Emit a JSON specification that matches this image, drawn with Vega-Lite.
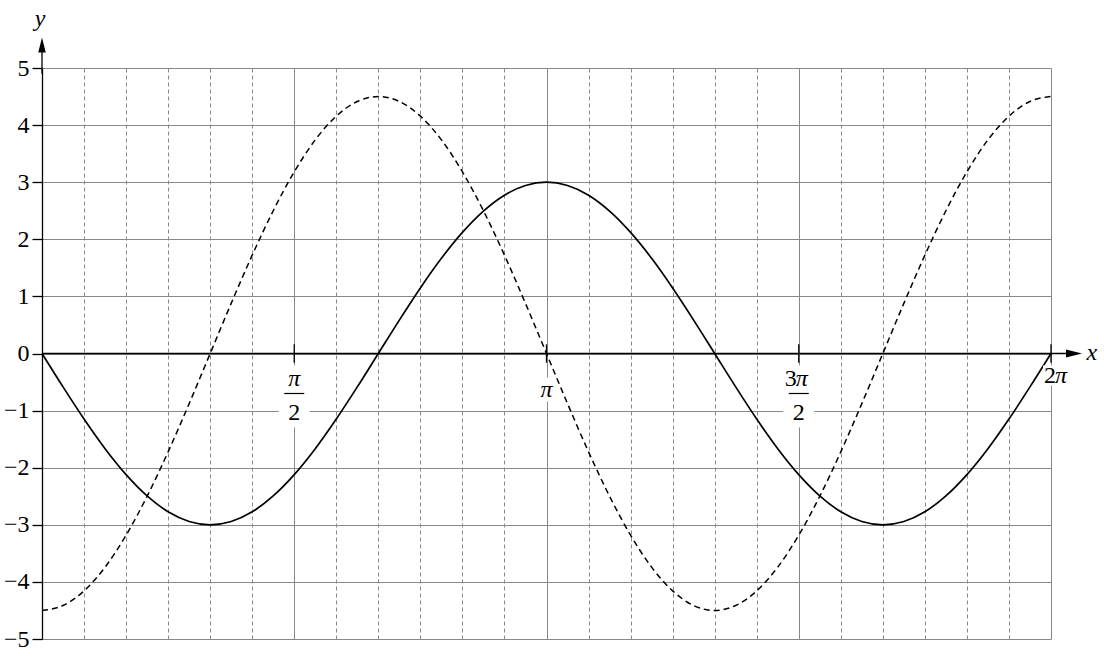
{
  "$schema": "https://vega.github.io/schema/vega-lite/v6.json",
  "width": 1009,
  "height": 571,
  "autosize": {"type": "none"},
  "padding": {"left": 42, "top": 68, "right": 53, "bottom": 19},
  "background": "white",
  "config": {"view": {"stroke": null}, "font": "Liberation Serif"},
  "datasets": {
    "curves": [
      {"x": 0, "solid": 0, "dashed": -4.5},
      {"x": 0.1309, "solid": -0.585, "dashed": -4.414},
      {"x": 0.2618, "solid": -1.148, "dashed": -4.157},
      {"x": 0.3927, "solid": -1.667, "dashed": -3.742},
      {"x": 0.5236, "solid": -2.121, "dashed": -3.182},
      {"x": 0.6545, "solid": -2.494, "dashed": -2.5},
      {"x": 0.7854, "solid": -2.772, "dashed": -1.722},
      {"x": 0.9163, "solid": -2.942, "dashed": -0.878},
      {"x": 1.0472, "solid": -3, "dashed": 0},
      {"x": 1.1781, "solid": -2.942, "dashed": 0.878},
      {"x": 1.309, "solid": -2.772, "dashed": 1.722},
      {"x": 1.4399, "solid": -2.494, "dashed": 2.5},
      {"x": 1.5708, "solid": -2.121, "dashed": 3.182},
      {"x": 1.7017, "solid": -1.667, "dashed": 3.742},
      {"x": 1.8326, "solid": -1.148, "dashed": 4.157},
      {"x": 1.9635, "solid": -0.585, "dashed": 4.414},
      {"x": 2.0944, "solid": 0, "dashed": 4.5},
      {"x": 2.2253, "solid": 0.585, "dashed": 4.414},
      {"x": 2.3562, "solid": 1.148, "dashed": 4.157},
      {"x": 2.4871, "solid": 1.667, "dashed": 3.742},
      {"x": 2.618, "solid": 2.121, "dashed": 3.182},
      {"x": 2.7489, "solid": 2.494, "dashed": 2.5},
      {"x": 2.8798, "solid": 2.772, "dashed": 1.722},
      {"x": 3.0107, "solid": 2.942, "dashed": 0.878},
      {"x": 3.1416, "solid": 3, "dashed": 0},
      {"x": 3.2725, "solid": 2.942, "dashed": -0.878},
      {"x": 3.4034, "solid": 2.772, "dashed": -1.722},
      {"x": 3.5343, "solid": 2.494, "dashed": -2.5},
      {"x": 3.6652, "solid": 2.121, "dashed": -3.182},
      {"x": 3.7961, "solid": 1.667, "dashed": -3.742},
      {"x": 3.927, "solid": 1.148, "dashed": -4.157},
      {"x": 4.0579, "solid": 0.585, "dashed": -4.414},
      {"x": 4.1888, "solid": 0, "dashed": -4.5},
      {"x": 4.3197, "solid": -0.585, "dashed": -4.414},
      {"x": 4.4506, "solid": -1.148, "dashed": -4.157},
      {"x": 4.5815, "solid": -1.667, "dashed": -3.742},
      {"x": 4.7124, "solid": -2.121, "dashed": -3.182},
      {"x": 4.8433, "solid": -2.494, "dashed": -2.5},
      {"x": 4.9742, "solid": -2.772, "dashed": -1.722},
      {"x": 5.1051, "solid": -2.942, "dashed": -0.878},
      {"x": 5.236, "solid": -3, "dashed": 0},
      {"x": 5.3669, "solid": -2.942, "dashed": 0.878},
      {"x": 5.4978, "solid": -2.772, "dashed": 1.722},
      {"x": 5.6287, "solid": -2.494, "dashed": 2.5},
      {"x": 5.7596, "solid": -2.121, "dashed": 3.182},
      {"x": 5.8905, "solid": -1.667, "dashed": 3.742},
      {"x": 6.0214, "solid": -1.148, "dashed": 4.157},
      {"x": 6.1523, "solid": -0.585, "dashed": 4.414},
      {"x": 6.2832, "solid": 0, "dashed": 4.5}
    ],
    "ticks": [
      {"x": 1.5708, "label": "π/2", "coef": "", "pi": "π", "den": "2"},
      {"x": 3.1416, "label": "π", "coef": "", "pi": "π", "den": ""},
      {"x": 4.7124, "label": "3π/2", "coef": "3", "pi": "π", "den": "2"},
      {"x": 6.2832, "label": "2π", "coef": "2", "pi": "π", "den": ""}
    ]
  },
  "layer": [
    {
      "data": {"name": "curves"},
      "mark": {"type": "line", "interpolate": "monotone", "color": "black", "strokeWidth": 1.7},
      "encoding": {
        "x": {
          "field": "x", "type": "quantitative", "title": null,
          "scale": {"domain": [0, 6.2832], "nice": false, "zero": false},
          "axis": {
            "values": [0.2618, 0.5236, 0.7854, 1.0472, 1.309, 1.5708, 1.8326, 2.0944, 2.3562, 2.618, 2.8798, 3.1416, 3.4034, 3.6652, 3.927, 4.1888, 4.4506, 4.7124, 4.9742, 5.236, 5.4978, 5.7596, 6.0214, 6.2832],
            "labels": false, "ticks": false, "domain": false,
            "grid": true, "gridColor": "#888888", "gridWidth": 1, "gridOpacity": 1,
            "gridDash": {"condition": {"test": "abs(datum.value / (PI / 2) - round(datum.value / (PI / 2))) < 0.001", "value": []}, "value": [4, 3]}
          }
        },
        "y": {
          "field": "solid", "type": "quantitative", "title": null,
          "scale": {"domain": [-5, 5], "nice": false, "zero": false},
          "axis": {
            "values": [-5, -4, -3, -2, -1, 0, 1, 2, 3, 4, 5],
            "format": "d",
            "grid": true, "gridColor": "#888888", "gridWidth": 1, "gridOpacity": 1,
            "domainColor": "black", "domainWidth": 1.3,
            "tickColor": "black", "tickSize": 10, "tickWidth": 1.3,
            "labelFont": "Liberation Serif", "labelFontSize": 24, "labelColor": "black", "labelPadding": 3
          }
        }
      }
    },
    {
      "data": {"name": "ticks"},
      "transform": [{"filter": "datum.den !== ''"}],
      "mark": {"type": "point", "shape": "M-0.5,-1H0.5V1H-0.5Z", "size": 3844, "filled": true, "fill": "white", "opacity": 1, "strokeWidth": 0, "yOffset": 43},
      "encoding": {"x": {"field": "x", "type": "quantitative"}, "y": {"datum": 0, "type": "quantitative"}}
    },
    {
      "data": {"name": "ticks"},
      "transform": [{"filter": "datum.label === 'π'"}],
      "mark": {"type": "point", "shape": "M-0.75,-1H0.75V1H-0.75Z", "size": 576, "filled": true, "fill": "white", "opacity": 1, "strokeWidth": 0, "yOffset": 36},
      "encoding": {"x": {"field": "x", "type": "quantitative"}, "y": {"datum": 0, "type": "quantitative"}}
    },
    {
      "data": {"name": "ticks"},
      "transform": [{"filter": "datum.label === '2π'"}],
      "mark": {"type": "point", "shape": "M-1,-0.72H1V0.72H-1Z", "size": 784, "filled": true, "fill": "white", "opacity": 1, "strokeWidth": 0, "xOffset": 6, "yOffset": 22},
      "encoding": {"x": {"field": "x", "type": "quantitative"}, "y": {"datum": 0, "type": "quantitative"}}
    },
    {
      "data": {"name": "curves"},
      "mark": {"type": "line", "interpolate": "monotone", "color": "black", "strokeWidth": 1.5, "strokeDash": [6, 4]},
      "encoding": {
        "x": {"field": "x", "type": "quantitative", "title": null},
        "y": {"field": "dashed", "type": "quantitative", "title": null}
      }
    },
    {
      "data": {"values": [{}]},
      "mark": {"type": "rule", "color": "black", "strokeWidth": 1.3},
      "encoding": {"x": {"datum": 0, "type": "quantitative"}, "x2": {"datum": 6.41}, "y": {"datum": 0, "type": "quantitative"}}
    },
    {
      "data": {"values": [{}]},
      "mark": {"type": "rule", "color": "black", "strokeWidth": 1.3},
      "encoding": {"x": {"datum": 0, "type": "quantitative"}, "y": {"datum": 4.9, "type": "quantitative"}, "y2": {"datum": 5.32}}
    },
    {
      "data": {"name": "ticks"},
      "mark": {"type": "rule", "color": "black", "strokeWidth": 1.3},
      "encoding": {"x": {"field": "x", "type": "quantitative"}, "y": {"datum": -0.16, "type": "quantitative"}, "y2": {"datum": 0.16}}
    },
    {
      "data": {"values": [{}]},
      "mark": {"type": "point", "shape": "M0,-1L0.5,1L-0.5,1Z", "size": 225, "filled": true, "color": "black", "opacity": 1, "strokeWidth": 0},
      "encoding": {"x": {"datum": 0, "type": "quantitative"}, "y": {"datum": 5.403, "type": "quantitative"}}
    },
    {
      "data": {"values": [{}]},
      "mark": {"type": "point", "shape": "M1,0L-1,-0.5L-1,0.5Z", "size": 256, "filled": true, "color": "black", "opacity": 1, "strokeWidth": 0},
      "encoding": {"x": {"datum": 6.4263, "type": "quantitative"}, "y": {"datum": 0, "type": "quantitative"}}
    },
    {
      "data": {"name": "ticks"},
      "transform": [{"filter": "datum.label === 'π/2'"}],
      "mark": {"type": "text", "font": "Liberation Serif", "fontStyle": "italic", "fontSize": 24, "color": "black", "baseline": "middle", "align": "center", "dy": 25},
      "encoding": {"x": {"field": "x", "type": "quantitative"}, "y": {"datum": 0, "type": "quantitative"}, "text": {"field": "pi"}}
    },
    {
      "data": {"name": "ticks"},
      "transform": [{"filter": "datum.label === '3π/2'"}],
      "mark": {"type": "text", "font": "Liberation Serif", "fontSize": 24, "color": "black", "baseline": "middle", "align": "right", "dx": -2, "dy": 25},
      "encoding": {"x": {"field": "x", "type": "quantitative"}, "y": {"datum": 0, "type": "quantitative"}, "text": {"field": "coef"}}
    },
    {
      "data": {"name": "ticks"},
      "transform": [{"filter": "datum.label === '3π/2'"}],
      "mark": {"type": "text", "font": "Liberation Serif", "fontStyle": "italic", "fontSize": 24, "color": "black", "baseline": "middle", "align": "left", "dx": -3, "dy": 25},
      "encoding": {"x": {"field": "x", "type": "quantitative"}, "y": {"datum": 0, "type": "quantitative"}, "text": {"field": "pi"}}
    },
    {
      "data": {"name": "ticks"},
      "transform": [{"filter": "datum.den !== ''"}],
      "mark": {"type": "rule", "color": "black", "strokeWidth": 1.2, "xOffset": -10, "x2Offset": 10, "yOffset": 40},
      "encoding": {"x": {"field": "x", "type": "quantitative"}, "x2": {"field": "x"}, "y": {"datum": 0, "type": "quantitative"}}
    },
    {
      "data": {"name": "ticks"},
      "transform": [{"filter": "datum.den !== ''"}],
      "mark": {"type": "text", "font": "Liberation Serif", "fontSize": 24, "color": "black", "baseline": "middle", "align": "center", "dy": 59},
      "encoding": {"x": {"field": "x", "type": "quantitative"}, "y": {"datum": 0, "type": "quantitative"}, "text": {"field": "den"}}
    },
    {
      "data": {"name": "ticks"},
      "transform": [{"filter": "datum.label === 'π'"}],
      "mark": {"type": "text", "font": "Liberation Serif", "fontStyle": "italic", "fontSize": 24, "color": "black", "baseline": "middle", "align": "center", "dy": 36},
      "encoding": {"x": {"field": "x", "type": "quantitative"}, "y": {"datum": 0, "type": "quantitative"}, "text": {"field": "pi"}}
    },
    {
      "data": {"name": "ticks"},
      "transform": [{"filter": "datum.label === '2π'"}],
      "mark": {"type": "text", "font": "Liberation Serif", "fontSize": 24, "color": "black", "baseline": "middle", "align": "right", "dx": 5, "dy": 22},
      "encoding": {"x": {"field": "x", "type": "quantitative"}, "y": {"datum": 0, "type": "quantitative"}, "text": {"field": "coef"}}
    },
    {
      "data": {"name": "ticks"},
      "transform": [{"filter": "datum.label === '2π'"}],
      "mark": {"type": "text", "font": "Liberation Serif", "fontStyle": "italic", "fontSize": 24, "color": "black", "baseline": "middle", "align": "left", "dx": 4, "dy": 22},
      "encoding": {"x": {"field": "x", "type": "quantitative"}, "y": {"datum": 0, "type": "quantitative"}, "text": {"field": "pi"}}
    },
    {
      "data": {"values": [{}]},
      "mark": {"type": "text", "font": "Liberation Serif", "fontStyle": "italic", "fontSize": 24, "color": "black", "baseline": "alphabetic", "align": "center", "dy": 6},
      "encoding": {"x": {"datum": 6.538, "type": "quantitative"}, "y": {"datum": 0, "type": "quantitative"}, "text": {"value": "x"}}
    },
    {
      "data": {"values": [{}]},
      "mark": {"type": "text", "font": "Liberation Serif", "fontStyle": "italic", "fontSize": 24, "color": "black", "baseline": "alphabetic", "align": "center", "dx": -2},
      "encoding": {"x": {"datum": 0, "type": "quantitative"}, "y": {"datum": 5.727, "type": "quantitative"}, "text": {"value": "y"}}
    }
  ]
}
